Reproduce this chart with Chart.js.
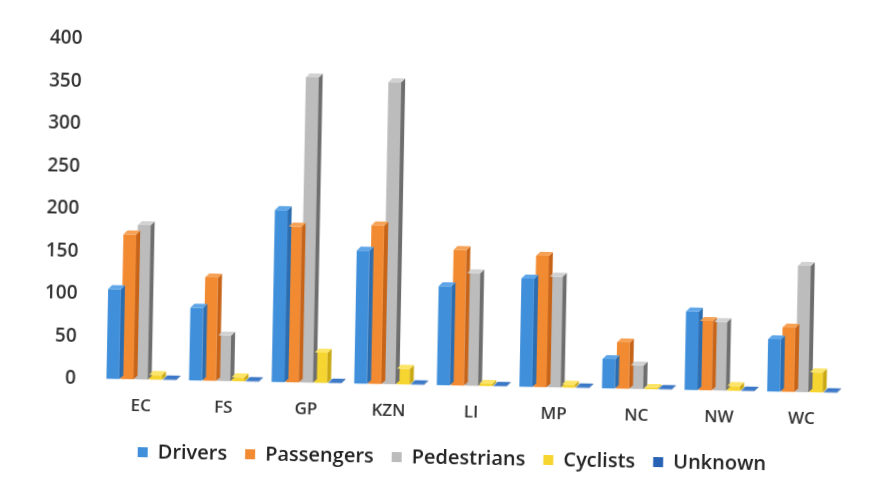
<!DOCTYPE html>
<html>
<head>
<meta charset="utf-8">
<script src="https://cdn.jsdelivr.net/npm/chart.js@4/dist/chart.umd.min.js"></script>
<style>
  html, body { margin: 0; padding: 0; background: #ffffff; overflow: hidden; }
  #wrap { width: 892px; height: 488px; transform: rotate(1.1deg); transform-origin: 50% 50%; }
</style>
</head>
<body>
<div id="wrap"><canvas id="chart"></canvas></div>
<script>
// Road deaths by province and road user type
const provinces = ['EC', 'FS', 'GP', 'KZN', 'LI', 'MP', 'NC', 'NW', 'WC'];
const drivers = [106, 86, 203, 157, 117, 128, 35, 93, 62];
const passengers = [171, 122, 184, 187, 160, 155, 55, 82, 76];
const pedestrians = [182, 54, 360, 356, 133, 131, 28, 81, 149];
const cyclists = [6, 5, 36, 19, 3, 4, 2, 6, 24];
const unknown = [1, 1, 1, 1, 1, 1, 1, 1, 1];
const yTicks = [0, 50, 100, 150, 200, 250, 300, 350, 400];

const seriesColors = {
  Drivers: ['#3f8fdb', '#2c6db0', '#5fa6e8'],
  Passengers: ['#f28a32', '#c76418', '#f6a256'],
  Pedestrians: ['#bcbcbc', '#6e6e6e', '#d2d2d2'],
  Cyclists: ['#f7d530', '#c9a812', '#fbe466'],
  Unknown: ['#2762b4', '#1a4a8a', '#3c78c8']
};

// fake the old Excel 3D look: side + top faces drawn off each bar element
const bar3d = {
  id: 'bar3d',
  afterDatasetsDraw(chart) {
    const ctx = chart.ctx;
    const dx = 4, dy = 4;
    chart.data.datasets.forEach((ds, i) => {
      const meta = chart.getDatasetMeta(i);
      const cols = seriesColors[ds.label];
      meta.data.forEach(bar => {
        const left = bar.x - bar.width / 2;
        const right = bar.x + bar.width / 2;
        ctx.save();
        ctx.fillStyle = cols[1];
        ctx.beginPath();
        ctx.moveTo(right, bar.y);
        ctx.lineTo(right + dx, bar.y - dy);
        ctx.lineTo(right + dx, bar.base - dy);
        ctx.lineTo(right, bar.base);
        ctx.closePath();
        ctx.fill();
        ctx.fillStyle = cols[2];
        ctx.beginPath();
        ctx.moveTo(left, bar.y);
        ctx.lineTo(left + dx, bar.y - dy);
        ctx.lineTo(right + dx, bar.y - dy);
        ctx.lineTo(right, bar.y);
        ctx.closePath();
        ctx.fill();
        ctx.restore();
      });
    });
  }
};

// legend sits a bit right of centre in the original
const legendNudge = {
  id: 'legendNudge',
  afterLayout(chart) {
    if (chart.legend) {
      chart.legend.left += 18;
      chart.legend.right += 18;
    }
  }
};

function makeSet(label, values) {
  return {
    label: label,
    data: values,
    backgroundColor: seriesColors[label][0],
    borderWidth: 0,
    categoryPercentage: 0.86,
    barPercentage: 0.9
  };
}

new Chart(document.getElementById('chart'), {
  type: 'bar',
  data: {
    labels: provinces,
    datasets: [
      makeSet('Drivers', drivers),
      makeSet('Passengers', passengers),
      makeSet('Pedestrians', pedestrians),
      makeSet('Cyclists', cyclists),
      makeSet('Unknown', unknown)
    ]
  },
  options: {
    responsive: true,
    maintainAspectRatio: false,
    animation: false,
    layout: { padding: { top: 46, left: 30, right: 46, bottom: 10 } },
    scales: {
      x: {
        grid: { display: false },
        border: { display: false },
        ticks: {
          color: '#333',
          padding: 8,
          font: { family: 'Open Sans', size: 17, weight: '600' }
        }
      },
      y: {
        min: 0,
        max: 400,
        afterBuildTicks: axis => { axis.ticks = yTicks.map(v => ({ value: v })); },
        grid: { display: false },
        border: { display: false },
        ticks: {
          color: '#333',
          padding: 16,
          font: { family: 'Open Sans', size: 19, weight: '600' }
        }
      }
    },
    plugins: {
      legend: {
        position: 'bottom',
        labels: {
          color: '#222',
          boxWidth: 10,
          boxHeight: 10,
          padding: 18,
          font: { family: 'Open Sans', size: 20, weight: '600' }
        }
      },
      tooltip: { enabled: false }
    }
  },
  plugins: [bar3d, legendNudge]
});
</script>
</body>
</html>
